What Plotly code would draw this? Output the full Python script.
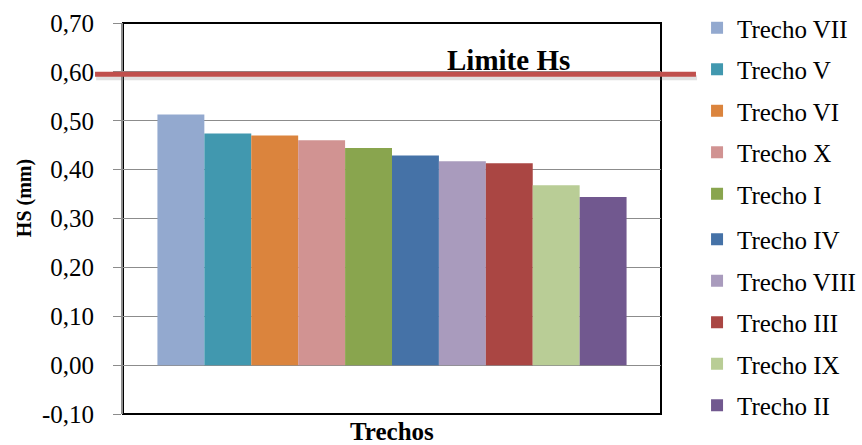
import plotly.graph_objects as go

# HS per stretch (mm), sorted from highest to lowest
trechos = ["Trecho VII", "Trecho V", "Trecho VI", "Trecho X", "Trecho I",
           "Trecho IV", "Trecho VIII", "Trecho III", "Trecho IX", "Trecho II"]
hs_values = [0.513, 0.474, 0.470, 0.460, 0.444, 0.429, 0.417, 0.413, 0.368, 0.344]
bar_colors = ["#93A9CF", "#4198AF", "#DB843D", "#D19392", "#89A54E",
              "#4572A7", "#A99BBD", "#AA4643", "#B9CD96", "#71588F"]

limite_hs = 0.595

y_tick_vals = [-0.10, 0.00, 0.10, 0.20, 0.30, 0.40, 0.50, 0.60, 0.70]
y_tick_text = ["-0,10", "0,00", "0,10", "0,20", "0,30", "0,40", "0,50", "0,60", "0,70"]

FONT = "Liberation Serif, Times New Roman, serif"

fig = go.Figure()
for i, (name, val, col) in enumerate(zip(trechos, hs_values, bar_colors)):
    # the legend is split over two stacked boxes so each stays within its height limit
    fig.add_trace(go.Bar(
        x=["Trechos"], y=[val], name=name, marker=dict(color=col, line=dict(width=0)),
        legendgroup=f"g{i}", legend="legend" if i < 5 else "legend2",
    ))

# plot-area frame (left edge is redrawn by the grey y axis line)
fig.add_shape(type="rect", xref="paper", yref="paper", x0=0, x1=1, y0=0, y1=1,
              line=dict(color="black", width=2), layer="below")

# limit line with a soft shadow, running past both sides of the plot area
fig.add_shape(type="line", xref="paper", yref="y", x0=-0.050, x1=1.067,
              y0=limite_hs - 0.007, y1=limite_hs - 0.007,
              line=dict(color="rgba(120,120,120,0.22)", width=5), layer="above")
fig.add_shape(type="line", xref="paper", yref="y", x0=-0.052, x1=1.065,
              y0=limite_hs, y1=limite_hs,
              line=dict(color="#C0504D", width=5), layer="above")

fig.add_annotation(text="<b>Limite Hs</b>", xref="paper", yref="y", x=0.716, y=limite_hs,
                   xanchor="center", yanchor="bottom", yshift=-4, showarrow=False,
                   font=dict(family=FONT, size=29, color="black"))

# axis titles
fig.add_annotation(text="<b>HS (mm)</b>", xref="paper", yref="paper",
                   x=-0.184, y=0.552, textangle=-90, xanchor="center", yanchor="middle",
                   showarrow=False, font=dict(family=FONT, size=20, color="black"))
fig.add_annotation(text="<b>Trechos</b>", xref="paper", yref="paper",
                   x=0.5, y=-31 / 391, xanchor="center", yanchor="bottom", yshift=-2,
                   showarrow=False, font=dict(family=FONT, size=25, color="black"))

legend_style = dict(x=1.067, xanchor="left", yanchor="top",
                    traceorder="grouped", tracegroupgap=6,
                    font=dict(family=FONT, size=25, color="black"),
                    itemwidth=30, bgcolor="rgba(0,0,0,0)")

fig.update_layout(
    width=862, height=445,
    margin=dict(l=123, r=201, t=23, b=31, autoexpand=False),
    paper_bgcolor="white", plot_bgcolor="white",
    barmode="group", bargap=0.128, bargroupgap=0,
    font=dict(family=FONT, size=24, color="black"),
    showlegend=True,
    legend=dict(y=1.046, **legend_style),
    legend2=dict(y=0.505, **legend_style),
)

fig.update_xaxes(
    showticklabels=False, showgrid=False, zeroline=False, showline=False,
    automargin=False,
)
fig.update_yaxes(
    range=[-0.10, 0.70], tickvals=y_tick_vals, ticktext=y_tick_text,
    showgrid=True, gridcolor="#8C8C8C", gridwidth=1, zeroline=False,
    showline=True, linecolor="#8C8C8C", linewidth=2,
    ticks="outside", ticklen=8, tickcolor="#8C8C8C", tickwidth=1,
    ticklabelstandoff=14,
    tickfont=dict(family=FONT, size=25),
    automargin=False,
)

fig.write_html("out.html")
